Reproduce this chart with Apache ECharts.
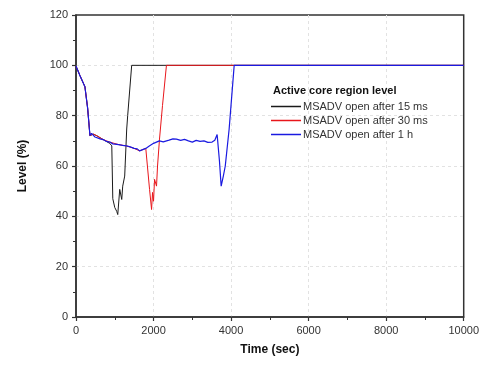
<!DOCTYPE html>
<html><head><meta charset="utf-8">
<script src="https://cdn.jsdelivr.net/npm/echarts@6/dist/echarts.min.js"></script>
<style>html,body{margin:0;padding:0;background:#fff}#c{width:482px;height:365px}</style>
</head><body><div id="c"></div>
<script>
const seriesNames = ['MSADV open after 15 ms','MSADV open after 30 ms','MSADV open after 1 h'];
const legendTitle = 'Active core region level';
const xTicks = [0,2000,4000,6000,8000,10000];
const yTicks = [0,20,40,60,80,100,120];

const t15 = [0,100,230,300,360,440,540,700,870,923,949,1000,1050,1077,1128,1180,1205,1256,1308,1333,1436,10000];
const v15 = [99.7,96,91.5,83,72,72.7,72,70.5,69,68,47,43.5,42,40.7,50.7,46.7,52,56,74.7,80,100,100];

const t30 = [0,100,230,300,360,440,540,700,870,1100,1300,1500,1640,1800,1846,1897,1949,1974,2000,2026,2077,2103,2154,2231,2333,10000];
const v30 = [99.7,96,91.5,83,72,72.7,72,70.5,69.5,68.5,68,67,66,67,66.7,50.7,42.7,49.5,46,54.7,52,60,70.7,84,100,100];

const t1h = [0,100,230,300,360,400,440,490,540,620,700,780,870,950,1100,1200,1300,1400,1500,1580,1640,1720,1800,1900,2000,2150,2250,2400,2500,2590,2700,2800,2900,3000,3100,3200,3300,3400,3510,3580,3620,3640,3700,3744,3800,3850,3950,4080,10000];
const v1h = [99.7,96,91.5,83,72,73,72.7,71.5,72,70.8,70.5,69.8,69.5,68.8,68.5,68.2,68,67.6,67,66.8,66,66.5,67,68,69,70,69.6,70.3,70.8,70.7,70.2,70.6,70,69.5,70.2,69.8,70,69.4,69.5,70.2,70,72.5,62,52,56,60,74.7,100,100];

const zip = (t, v) => t.map((x, i) => [x, v[i]]);
const colors = ['#1a1a1a', '#e8161b', '#1a1ae0'];

const chart = echarts.init(document.getElementById('c'));
const axisCommon = {
  axisLine: {show: true, onZero: false, lineStyle: {color: '#333', width: 1.5}},
  axisTick: {show: true, length: 4, lineStyle: {color: '#333', width: 1.2}},
  minorTick: {show: true, splitNumber: 2, length: 3, lineStyle: {color: '#333', width: 1}},
  axisLabel: {color: '#333', fontSize: 11, fontFamily: 'Liberation Sans, Arial', formatter: v => String(v)},
  splitLine: {show: true, showMinLine: false, showMaxLine: false, lineStyle: {color: '#e2e2e2', type: [3, 3], width: 1}}
};
chart.setOption({
  animation: false,
  title: {text: legendTitle, left: 268, top: 80, textStyle: {fontSize: 11, fontWeight: 'bold', color: '#111', fontFamily: 'Liberation Sans, Arial'}},
  legend: {
    data: seriesNames, orient: 'vertical', left: 266, top: 96, itemWidth: 30, itemHeight: 1.5, itemGap: 3,
    icon: 'rect', textStyle: {fontSize: 11, color: '#333', fontFamily: 'Liberation Sans, Arial', padding: [0,0,0,-3]}
  },
  grid: {left: 76, right: 16, top: 15, bottom: 48, show: true, borderColor: '#333', borderWidth: 1.5},
  xAxis: Object.assign({}, axisCommon, {
    type: 'value', min: 0, max: 10000, interval: 2000,
    name: 'Time (sec)', nameLocation: 'middle', nameGap: 27,
    nameTextStyle: {fontSize: 12, fontWeight: 'bold', color: '#111', fontFamily: 'Liberation Sans, Arial'}
  }),
  yAxis: Object.assign({}, axisCommon, {
    type: 'value', min: 0, max: 120, interval: 20,
    name: 'Level (%)', nameLocation: 'middle', nameGap: 47,
    nameTextStyle: {fontSize: 12, fontWeight: 'bold', color: '#111', fontFamily: 'Liberation Sans, Arial'}
  }),
  series: [
    {name: seriesNames[0], type: 'line', data: zip(t15, v15), showSymbol: false, color: colors[0], lineStyle: {width: 1}, z: 2},
    {name: seriesNames[1], type: 'line', data: zip(t30, v30), showSymbol: false, color: colors[1], lineStyle: {width: 1}, z: 3},
    {name: seriesNames[2], type: 'line', data: zip(t1h, v1h), showSymbol: false, color: colors[2], lineStyle: {width: 1.2}, z: 4}
  ]
});
</script></body></html>
